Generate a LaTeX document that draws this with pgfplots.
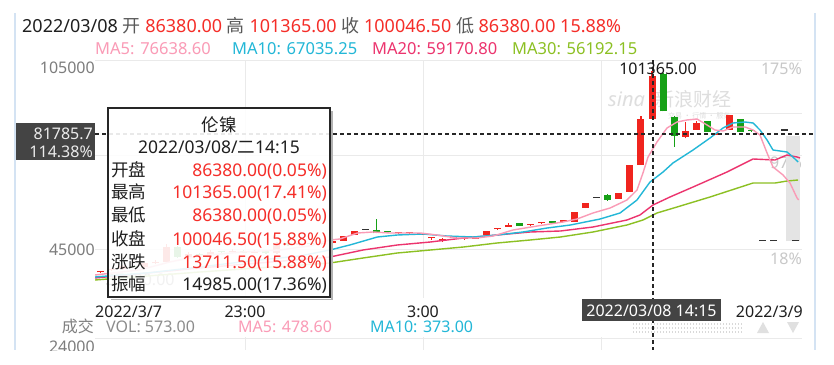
\documentclass[border=0pt]{standalone}
\usepackage{fontspec}
\setmainfont{Noto Sans}
\newfontfamily\cjk{Noto Sans CJK SC}
\usepackage{pgfplots}
\usepackage{pgfplotstable}
\pgfplotsset{compat=1.18}
\definecolor{cRed}{RGB}{240,36,30}
\definecolor{tRed}{RGB}{245,45,40}
\definecolor{cGreen}{RGB}{22,160,22}
\definecolor{cDoji}{RGB}{51,51,51}
\definecolor{ma5}{RGB}{250,155,182}
\definecolor{ma10}{RGB}{35,183,215}
\definecolor{ma20}{RGB}{236,52,110}
\definecolor{ma30}{RGB}{140,192,35}
\definecolor{gridc}{RGB}{234,234,234}
\definecolor{axlab}{RGB}{125,125,125}
\definecolor{pctlab}{RGB}{200,200,200}
\definecolor{boxbg}{RGB}{68,68,68}
\definecolor{frameC}{RGB}{212,227,243}
\definecolor{greyBar}{RGB}{228,228,228}
\definecolor{wmark}{RGB}{222,222,222}
\newcommand\fs[1]{\fontsize{#1}{#1}\selectfont}

\pgfplotstableread{
i o h l c
-50 37600 37900 37480 37800
-49 38200 38900 38000 38700
-48 38600 39800 38400 39500
-46 39200 40800 39000 40500
-45 40500 41500 40200 41000
-44 40960 46500 40800 45730
-42 42550 44000 42300 43500
-40 43000 44600 42800 44200
-38 44000 44900 43800 44500
-36 43800 44700 43600 44300
-34 43730 47300 43500 46900
-32 46300 47100 46100 46800
-30 46500 47200 46300 47000
-29 47000 47500 46900 47330
-28 47640 49230 47640 49230
-27 49450 50720 49450 50720
-23 49990 50150 49990 50150
-22 49990 50150 49990 50150
-21 49500 49660 49500 49660
-20 48400 48560 47860 48560
-19 47860 48500 47300 48000
-17 48080 48250 48080 48250
-16 48200 48360 48200 48360
-15 49450 50820 49450 50820
-14 51200 51360 51200 51360
-13 52090 53170 52090 52250
-11 52600 52760 52600 52760
-10 53100 53260 53100 53260
-8 53600 54100 53500 53760
-7 53680 56860 53680 56860
-6 57940 59530 57940 59530
-3 60900 62900 60900 62900
-2 63220 71710 63220 71710
-1 71710 87070 71710 86335
0 86380 101365 86380 100046.5
3 80710 85390 80080 82520
4 82840 85700 82840 85000
6 81300 81450 81300 81450
7 82840 87600 82840 87600
}\redT

\pgfplotstableread{
i o h l c
-47 39500 39700 39000 39200
-43 45730 45900 42300 42550
-41 43500 43800 42800 43000
-39 44200 44400 43700 44000
-37 44500 44700 43600 43800
-35 44300 44500 43500 43730
-33 46900 47000 46100 46300
-31 46800 47000 46300 46500
-25 51040 54440 49990 49990
-24 50700 50700 50250 50250
-12 53170 53170 52300 52300
-9 53570 53570 53400 53400
-4 62170 62500 60300 60580
1 100400 101000 88660 88660
2 86880 87300 77530 80930
5 85700 85700 82300 82300
8 86250 86250 82300 82300
9 82600 82600 82450 82450
}\greenT

\pgfplotstableread{
i o h l c
-26 51040 51040 51040 51040
-18 48400 48400 48400 48400
-5 61120 61120 61120 61120
10 47540 47540 47540 47540
11 47540 47540 47540 47540
12 82500 82500 82500 82500
13 47540 47540 47540 47540
}\dojiT

\pgfplotstableread{
i l h
12.79 47540 80900
}\greyT

\pgfplotstableread{
x y
-50.5 36746
-46.4 38400
-43.7 40900
-41.0 42800
-37.35 44000
-33.7 44700
-31.0 46000
-29.2 47857
-28.3 48175
-26.7 50079
-25.3 50397
-23.75 50079
-22.2 50079
-21.0 50079
-19.5 49444
-17.7 48492
-15.9 48492
-14.4 49127
-12.6 51032
-10.4 52302
-8.07 53571
-6.8 54524
-5.35 56429
-3.8 58016
-2.27 60556
-1.36 63730
-0.82 69127
-0.36 74206
0.45 78968
1.36 83413
2.27 85317
3.17 85952
4.08 86270
4.99 84365
5.71 82778
6.44 82460
7.34 83730
8.43 83730
9.16 82778
9.79 81190
10.43 75476
10.97 71032
11.88 68492
12.51 65952
13.15 61190
13.3 60556
}\maFive

\pgfplotstableread{
x y
-50.5 36111
-45.5 37500
-41.0 39300
-36.45 41200
-31.9 42800
-29.2 44683
-27.4 46270
-24.9 48810
-23.1 49444
-20.76 49762
-18.6 49127
-16.2 48810
-14.05 49444
-11.7 50397
-9.5 51667
-7.4 52619
-6.5 53254
-4.7 54524
-2.9 56429
-1.36 60556
-0.18 66270
1.0 69444
1.9 72302
3.72 76428
5.26 80238
6.44 83413
7.34 85000
8.43 85317
9.16 85000
9.79 82778
10.43 79603
10.97 76428
12.24 75794
12.78 74206
13.24 72619
}\maTen

\pgfplotstableread{
x y
-50.5 35794
-41.0 38968
-29.2 42460
-26.2 44683
-23.1 46270
-20.1 47222
-17.1 48492
-14.05 49444
-11.05 50397
-8.3 50714
-5.35 51984
-2.27 54206
-1.09 55794
0.09 58968
1.63 61508
3.72 64683
6.8 69444
9.16 73571
11.15 73254
12.24 74841
13.15 74206
13.42 73889
}\maTwenty

\pgfplotstableread{
x y
-50.5 35159
-41.0 37698
-29.2 40556
-26.2 42143
-23.1 43730
-20.1 44683
-17.1 45635
-14.05 46905
-11.05 47857
-8.3 48810
-5.35 50397
-2.27 52619
-0.82 54206
0.45 56429
2.27 58333
5.26 61508
9.16 65952
11.15 65952
12.24 66587
13.24 66905
}\maThirty

\tikzset{
  lab/.style={inner sep=0pt, text height=11.5pt, text depth=0pt, font=\fs{16}},
  tip/.style={inner sep=0pt, text height=12.4pt, text depth=0pt},
  hdr/.style={inner sep=0pt, text height=12.9pt, text depth=0pt, font=\fs{18}},
}
\pgfplotsset{
  candle/.style={draw=none, mark=none, forget plot, error bars/.cd, y dir=plus, y explicit, error mark=none},
}

\begin{document}
\begin{tikzpicture}
\begin{scope}[x=1pt,y=-1pt]
\path[use as bounding box] (0,0) rectangle (834,364);
\fill[white] (0,0) rectangle (834,364);
\draw[frameC, line width=1.3pt] (15,13) -- (15,350) (815,13) -- (815,350);
\draw[gridc, line width=1pt] (95,60) -- (802,60) (95,155) -- (802,155) (95,249) -- (802,249) (95,338) -- (802,338);
\foreach \gx in {245,423,601} {\draw[gridc, line width=1pt] (\gx,60) -- (\gx,298) (\gx,337) -- (\gx,350);}
\draw[gridc, line width=1pt] (700,113) -- (802,113);
% watermark
\node[inner sep=0pt, anchor=west, text=wmark, font=\fs{20}\bfseries\itshape] at (608,99) {sina};
\node[inner sep=0pt, anchor=west, text=wmark, font=\fs{19}\cjk] at (655,99) {新浪财经};
\node[inner sep=0pt, anchor=west, text=wmark, font=\fs{7}\cjk] at (668,116) {交易 · 行情 · 服务};
% faint min label (under tooltip)
\node[lab, anchor=west, text=black!55] at (106,280) {37480.00};
% right percent labels
\node[lab, anchor=east, text=pctlab] at (802,69) {175\%};
\node[lab, anchor=east, text=pctlab] at (802,163) {97\%};
\node[lab, anchor=east, text=pctlab] at (802,259) {18\%};
\end{scope}

\begin{axis}[at={(95pt,-298pt)}, anchor=south west, scale only axis,
  width=707pt, height=238pt, xmin=-50.5, xmax=13.6, ymin=29444, ymax=105000,
  hide axis, clip=true]
% grey block
\addplot[candle, error bar style={line width=14pt, draw=greyBar, solid}]
  table[x=i, y=l, y error plus expr={\thisrow{h}-\thisrow{l}}] {\greyT};
% wicks
\addplot[candle, error bar style={line width=1.1pt, draw=cRed, solid}]
  table[x=i, y=l, y error plus expr={\thisrow{h}-\thisrow{l}}] {\redT};
\addplot[candle, error bar style={line width=1.1pt, draw=cGreen, solid}]
  table[x=i, y=l, y error plus expr={\thisrow{h}-\thisrow{l}}] {\greenT};
% bodies
\addplot[candle, error bar style={line width=7pt, draw=cRed, solid}]
  table[x=i, y expr={min(\thisrow{o},\thisrow{c})}, y error plus expr={max(abs(\thisrow{c}-\thisrow{o}),450)}] {\redT};
\addplot[candle, error bar style={line width=7pt, draw=cGreen, solid}]
  table[x=i, y expr={min(\thisrow{o},\thisrow{c})}, y error plus expr={max(abs(\thisrow{c}-\thisrow{o}),450)}] {\greenT};
\addplot[candle, error bar style={line width=7pt, draw=cDoji, solid}]
  table[x=i, y expr={min(\thisrow{o},\thisrow{c})}, y error plus expr={max(abs(\thisrow{c}-\thisrow{o}),450)}] {\dojiT};
% moving averages
\addplot[ma30, line width=1.4pt, line join=round, mark=none] table[x=x,y=y] {\maThirty};
\addplot[ma20, line width=1.4pt, line join=round, mark=none] table[x=x,y=y] {\maTwenty};
\addplot[ma10, line width=1.4pt, line join=round, mark=none] table[x=x,y=y] {\maTen};
\addplot[ma5, line width=1.4pt, line join=round, mark=none] table[x=x,y=y] {\maFive};
\end{axis}

\begin{scope}[x=1pt,y=-1pt]
% crosshair
\draw[black!85, line width=1.1pt, dash pattern=on 4pt off 3pt] (95,134) -- (815,134);
\draw[black!85, line width=1.1pt, dash pattern=on 4pt off 3pt] (653,60) -- (653,350);
% left axis labels
\node[lab, anchor=east, text=axlab] at (95,68) {105000};
\node[lab, anchor=east, text=axlab] at (95,250) {45000};
\begin{scope}
\clip (0,0) rectangle (834,350);
\node[lab, anchor=east, text=axlab] at (95,347) {24000};
\end{scope}
% max label
\node[lab, text=black!90] at (658,69) {101365.00};
% x labels
\node[lab, anchor=west, text=black!88] at (95,312) {2022/3/7};
\node[lab, text=black!88] at (245,312) {23:00};
\node[lab, text=black!88] at (423,312) {3:00};
\node[lab, text=black!88] at (601,312) {11:00};
\node[lab, anchor=east, text=black!88] at (803,312) {2022/3/9};
% time box
\fill[boxbg] (582,299) rectangle (721,321);
\node[lab, text=white] at (651.5,310.5) {2022/03/08 14:15};
% price box
\fill[boxbg] (16,123) rectangle (95,160);
\node[lab, anchor=east, text=black!8] at (93,134) {81785.7};
\node[lab, anchor=east, text=black!8] at (93,152) {114.38\%};
% header
\node[hdr, anchor=west] at (22,26) {\textcolor{black!88}{2022/03/08} {\cjk\color{black!65}开} \textcolor{tRed}{86380.00} {\cjk\color{black!65}高} \textcolor{tRed}{101365.00} {\cjk\color{black!65}收} \textcolor{tRed}{100046.50} {\cjk\color{black!65}低} \textcolor{tRed}{86380.00 15.88\%}};
\node[lab, anchor=west, text=ma5, font=\fs{16.5}] at (95,49) {MA5: 76638.60};
\node[lab, anchor=west, text=ma10, font=\fs{16.5}] at (232,49) {MA10: 67035.25};
\node[lab, anchor=west, text=ma20, font=\fs{16.5}] at (372,49) {MA20: 59170.80};
\node[lab, anchor=west, text=ma30, font=\fs{16.5}] at (512,49) {MA30: 56192.15};
% volume header
\node[lab, anchor=east, text=black!50, font=\fs{16}\cjk] at (94,327) {成交};
\node[lab, anchor=west, text=black!45] at (106,327) {VOL: 573.00};
\node[lab, anchor=west, text=ma5] at (238,327) {MA5: 478.60};
\node[lab, anchor=west, text=ma10] at (370,327) {MA10: 373.00};
% scroller
\foreach \yy in {324,328,332} {\draw[black!15, line width=1.3pt, dash pattern=on 1.3pt off 1.7pt] (633,\yy) -- (743,\yy);}
\fill[black!12] (757,333) -- (769,333) -- (763,322) -- cycle;
\fill[black!12] (787,322) -- (799,322) -- (793,333) -- cycle;
% tooltip
\draw[black!30, line width=1.6pt] (332,111) -- (332,299.5) -- (111,299.5);
\draw[fill=white, fill opacity=0.9, draw=black!85, line width=1.3pt] (108,108) rectangle (330,297);
\node[tip, font=\fs{17.5}\cjk, text=black!88] at (219,125) {伦镍};
\node[tip, font=\fs{17.5}, text=black!88] at (219,147) {2022/03/08/{\cjk 二}14:15};
\foreach \yy/\la/\va/\cc in {170/开盘/86380.00(0.05\%)/tRed, 192.5/最高/101365.00(17.41\%)/tRed, 215.5/最低/86380.00(0.05\%)/tRed, 239/收盘/100046.50(15.88\%)/tRed, 262/涨跌/13711.50(15.88\%)/tRed, 284.5/振幅/14985.00(17.36\%)/black!88}{
  \node[tip, anchor=west, font=\fs{17.5}\cjk, text=black!88] at (111,\yy) {\la};
  \node[tip, anchor=east, font=\fs{17.5}, text=\cc] at (327,\yy) {\va};
}
\end{scope}
\end{tikzpicture}
\end{document}
